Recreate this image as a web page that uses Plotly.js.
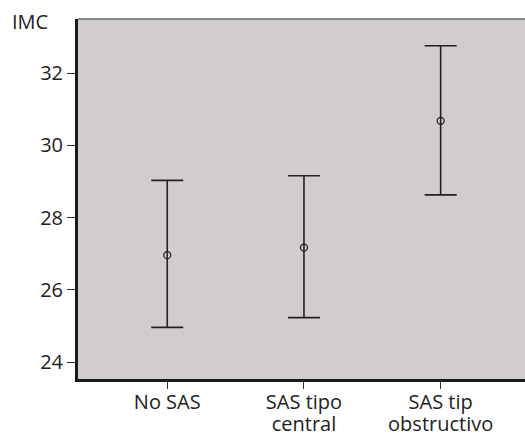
<!DOCTYPE html>
<html>
<head>
<meta charset="utf-8">
<script src="https://cdn.plot.ly/plotly-3.0.1.min.js"></script>
<style>html,body{margin:0;padding:0;background:#fff;}#chart{width:525px;height:434px;}</style>
</head>
<body>
<div id="chart"></div>
<script>
const categoriesLine1 = ["No SAS", "SAS tipo", "SAS tip"];
const categoriesLine2 = ["", "central", "obstructivo"];
const means = [26.96, 27.17, 30.68];
const upper = [29.03, 29.16, 32.76];
const lower = [24.96, 25.23, 28.63];
const yTicks = [24, 26, 28, 30, 32];
const yLabel = "IMC";

const xIdx = categoriesLine1.map((c, i) => i);
const plus = means.map((m, i) => upper[i] - m);
const minus = means.map((m, i) => m - lower[i]);

const trace = {
  x: xIdx,
  y: means,
  type: "scatter",
  mode: "markers",
  marker: {symbol: "circle-open", size: 7, color: "#222", line: {width: 1.3, color: "#222"}},
  error_y: {type: "data", symmetric: false, array: plus, arrayminus: minus,
            color: "#222", thickness: 1.6, width: 16},
  hoverinfo: "none",
  showlegend: false
};

const XR = [-0.653, 2.617];
const tf = {family: "Open Sans, Noto Sans, sans-serif", size: 20, color: "#222"};

const layout = {
  width: 525, height: 434,
  margin: {l: 78, r: 0, t: 19, b: 55},
  paper_bgcolor: "#ffffff",
  plot_bgcolor: "#d0cdcc",
  font: tf,
  xaxis: {
    range: XR,
    tickvals: xIdx, ticktext: categoriesLine1,
    showgrid: false, zeroline: false,
    showline: true, linecolor: "#1a1a1a", linewidth: 3,
    ticks: "outside", ticklen: 7, tickcolor: "#333", tickwidth: 1,
    ticklabelstandoff: -4,
    tickfont: tf
  },
  xaxis2: {
    overlaying: "x", anchor: "y", side: "bottom",
    range: XR,
    tickvals: xIdx, ticktext: categoriesLine2,
    showgrid: false, zeroline: false, showline: false,
    ticks: "", ticklabelstandoff: 31,
    tickfont: tf
  },
  yaxis: {
    range: [23.53, 33.5],
    tickvals: yTicks,
    showgrid: false, zeroline: false,
    showline: true, linecolor: "#1a1a1a", linewidth: 3,
    ticks: "outside", ticklen: 8, tickcolor: "#333", tickwidth: 1,
    tickfont: tf
  },
  shapes: [{type: "line", xref: "paper", yref: "paper", x0: 0, x1: 1, y0: 1, y1: 1,
            line: {color: "#666", width: 1.5}}],
  annotations: [{text: yLabel, xref: "paper", yref: "paper", x: -0.152, y: 1.036,
                 xanchor: "left", yanchor: "top", showarrow: false,
                 font: tf}]
};

const ghost = {x: [xIdx[0]], y: [means[0]], xaxis: "x2", type: "scatter", mode: "markers",
               marker: {opacity: 0}, hoverinfo: "none", showlegend: false};

Plotly.newPlot("chart", [trace, ghost], layout, {displayModeBar: false, staticPlot: true});
</script>
</body>
</html>
